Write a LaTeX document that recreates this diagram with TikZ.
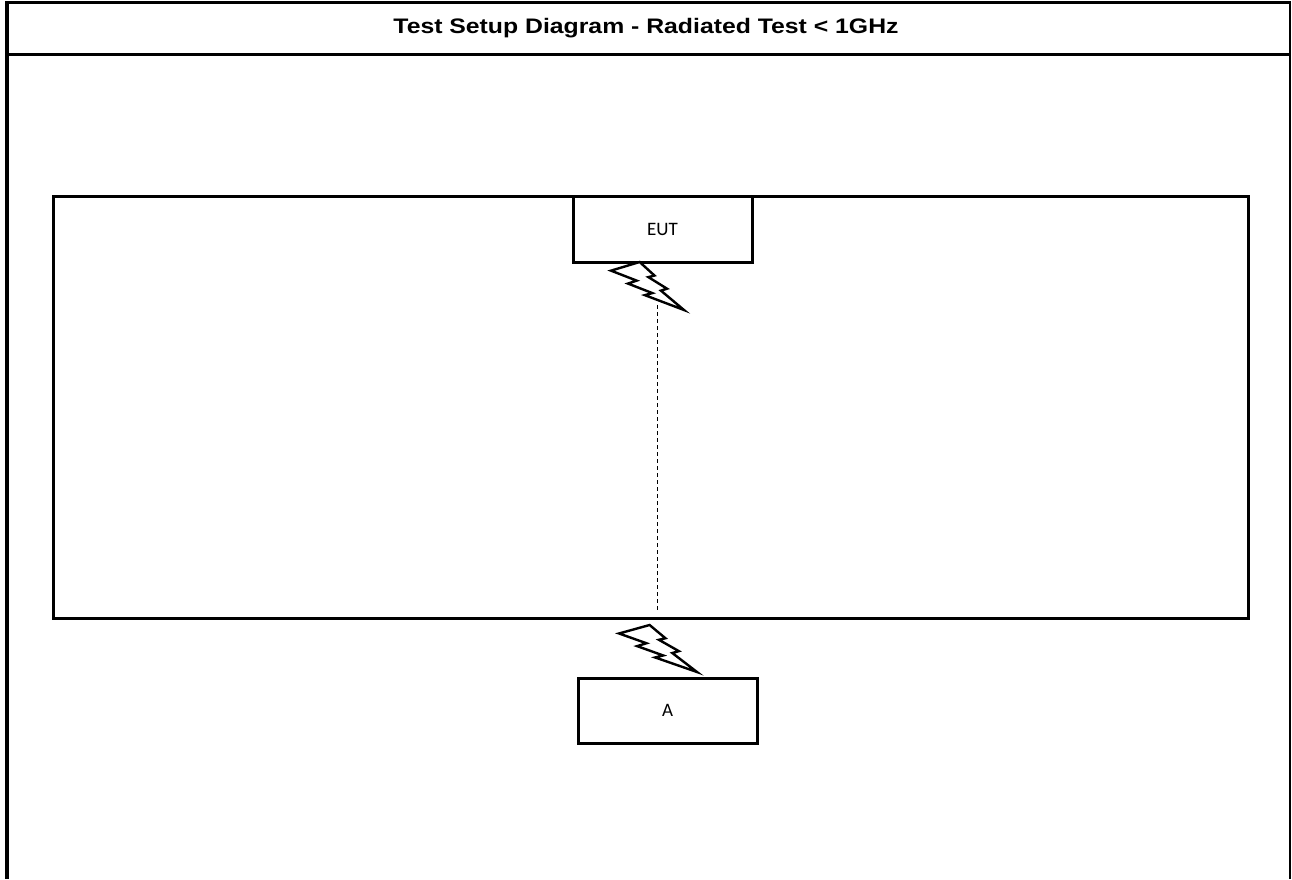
\documentclass[tikz,border=0pt]{standalone}
\usepackage{fontspec}
\setmainfont{Liberation Sans}
\newfontfamily\titlefont[FakeStretch=1.18]{Liberation Sans Bold}
\newfontfamily\bodyfont{Carlito}
\usetikzlibrary{positioning}

\tikzset{
  bolt/.pic={
    \draw[line width=2.4pt,line join=miter,fill=white] (0.3922,0) -- (0.5954,0.2815) -- (0.5116,0.3147) -- (0.7675,0.5559) -- (0.6837,0.5962) -- (1,1) -- (0.4635,0.6905) -- (0.5658,0.6475) -- (0.2325,0.4492) -- (0.3519,0.3881) -- (0,0.1801) -- cycle;
  }
}

\begin{document}
\begin{tikzpicture}[x=1pt,y=-1pt,line cap=butt,
  unit/.style={draw,line width=3pt,fill=white,minimum width=179pt,minimum height=66pt,inner sep=0pt,font=\bodyfont\fontsize{19}{21}\selectfont},
  frame/.style={line width=3pt},
  ray/.style={line width=0.9pt,dash pattern=on 4pt off 3pt}]
\useasboundingbox (0,0) rectangle (1292,879);
\coordinate (fTL) at (7,4);
\coordinate (fBL) at (7,879);
\coordinate (fTR) at (1290.3,4);
\coordinate (fBR) at (1290.3,879);
\coordinate (hL) at (7,54.5);
\coordinate (hR) at (1290.3,54.5);
\draw[frame,line width=4pt] (fTL) -- (fBL);
\draw[frame,line width=2pt] (fTR) -- (fBR);
\draw[frame] ([xshift=-2pt,yshift=1.5pt]fTL) -- ([xshift=1pt,yshift=1.5pt]fTR);
\draw[frame] (hL) -- (hR);
\node[font=\titlefont\fontsize{21}{24}\selectfont] (title) at (646,28.5) {Test Setup Diagram - Radiated Test < 1GHz};
\node[draw,line width=3pt,minimum width=1195pt,minimum height=422pt,inner sep=0pt] (chamber) at (650.5,407) {};
\node[unit] (eut) at (662.5,229) {EUT};
\node[unit,minimum height=65pt] (ant) at (667.5,710.5) {A};
\coordinate (boltE) at (611,262);
\coordinate (boltA) at (619,625);
\pic[x=73pt,y=-48pt] at (boltE) {bolt};
\pic[x=78pt,y=-47pt] at (boltA) {bolt};
\coordinate (rayTop) at (657,305);
\coordinate (rayBot) at (657,612);
\draw[ray] (rayTop) -- (rayBot);
\end{tikzpicture}
\end{document}
